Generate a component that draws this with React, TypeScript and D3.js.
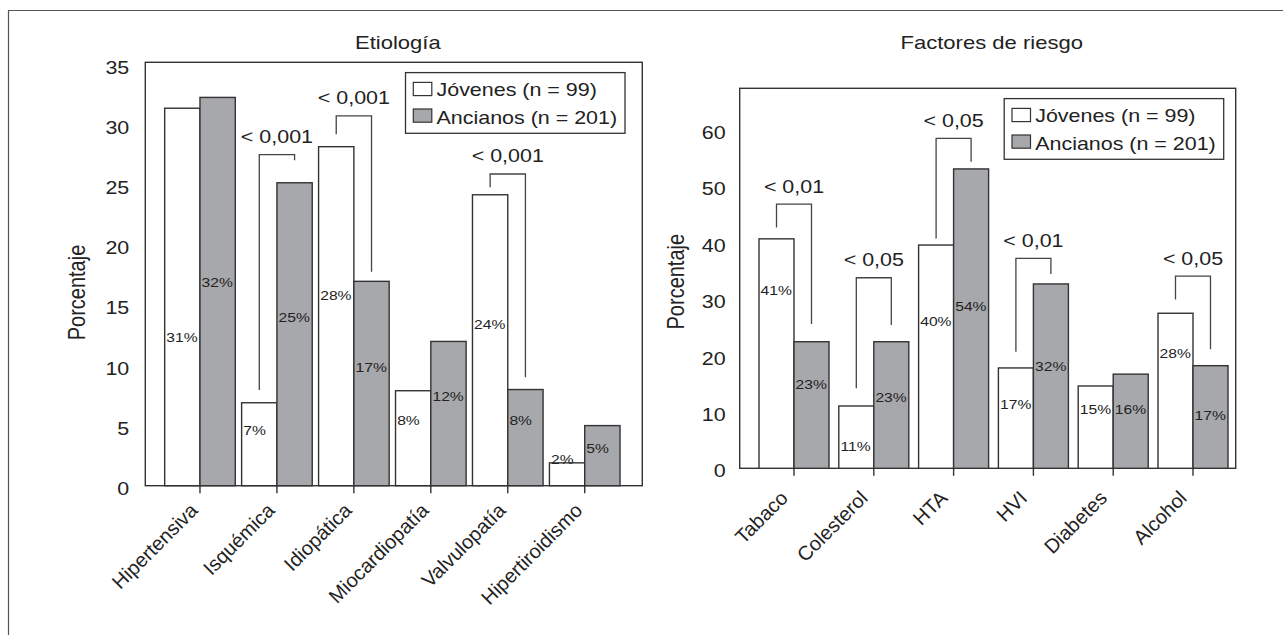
import React from "react";
import * as d3 from "d3";

// ---------- Data ----------
const etioCategories = ["Hipertensiva", "Isquémica", "Idiopática", "Miocardiopatía", "Valvulopatía", "Hipertiroidismo"];
const etioJovenes = [31.4, 6.9, 28.2, 7.9, 24.2, 1.9];
const etioAncianos = [32.3, 25.2, 17.0, 12.0, 8.0, 5.0];
const etioLabelsJ = ["31%", "7%", "28%", "8%", "24%", "2%"];
const etioLabelsA = ["32%", "25%", "17%", "12%", "8%", "5%"];
// value-unit heights at which the percentage annotations sit
const etioLabelAtJ = [12.3, 4.6, 15.8, 5.4, 13.4, 2.2];
const etioLabelAtA = [16.9, 14.0, 9.85, 7.4, 5.4, 3.1];
const etioTicks = [0, 5, 10, 15, 20, 25, 30, 35];
const etioBrackets = [
  { cat: "Isquémica", p: "< 0,001", left: 7.96, top: 27.54, right: 27.07 },
  { cat: "Idiopática", p: "< 0,001", left: 29.23, top: 30.76, right: 17.8 },
  { cat: "Valvulopatía", p: "< 0,001", left: 24.83, top: 25.93, right: 9.02 },
];

const riskCategories = ["Tabaco", "Colesterol", "HTA", "HVI", "Diabetes", "Alcohol"];
const riskJovenes = [40.7, 11.05, 39.6, 17.8, 14.6, 27.5];
const riskAncianos = [22.45, 22.45, 53.1, 32.7, 16.7, 18.2];
const riskLabelsJ = ["41%", "11%", "40%", "17%", "15%", "28%"];
const riskLabelsA = ["23%", "23%", "54%", "32%", "16%", "17%"];
const riskLabelAtJ = [31.5, 3.83, 26.0, 11.4, 10.5, 20.3];
const riskLabelAtA = [14.9, 12.5, 28.8, 18.1, 10.5, 9.3];
const riskTicks = [0, 10, 20, 30, 40, 50, 60];
const riskBrackets = [
  { cat: "Tabaco", p: "< 0,01", left: 42.73, top: 46.86, right: 25.59 },
  { cat: "Colesterol", p: "< 0,05", left: 14.2, top: 33.8, right: 25.4 },
  { cat: "HTA", p: "< 0,05", left: 40.78, top: 58.51, right: 54.36 },
  { cat: "HVI", p: "< 0,01", left: 20.67, top: 37.23, right: 34.45 },
  { cat: "Alcohol", p: "< 0,05", left: 29.96, top: 34.1, right: 21.1 },
];

const legendItems = ["Jóvenes (n = 99)", "Ancianos (n = 201)"];

// ---------- Styles ----------
const FONT = "'Liberation Sans', Arial, Helvetica, sans-serif";
const SX = 1.16; // horizontal stretch seen in the reference
const INK = "#222";
const BAR_STROKE = "#333";
const GRAY = "#a7a8ab";

function Txt({ x, y, size, anchor = "start", baseline = "auto", rotate = 0, stretch = true, children }: any) {
  const sc = stretch ? ` scale(${SX},1)` : "";
  return (
    <text
      transform={`translate(${x},${y})${sc}${rotate ? ` rotate(${rotate})` : ""}`}
      fontSize={size}
      textAnchor={anchor}
      dominantBaseline={baseline}
      fill={INK}
      fontFamily={FONT}
    >
      {children}
    </text>
  );
}

type PanelProps = {
  title: string;
  cats: string[];
  jov: number[];
  anc: number[];
  labJ: string[];
  labA: string[];
  atJ: number[];
  atA: number[];
  ticks: number[];
  brackets: { cat: string; p: string; left: number; top: number; right: number }[];
  x0: number;
  x1: number;
  yTop: number;
  yBottom: number;
  yMax: number;
  bandRange: [number, number];
  barW: number;
  tickGap: number;
  axisTitleX: number;
  axisTitleAt: number;
  legendGap: number;
  catDx: number;
  catDy: number;
};

function Panel(p: PanelProps) {
  const y = d3.scaleLinear().domain([0, p.yMax]).range([p.yBottom, p.yTop]);
  const xb = d3.scaleBand<string>().domain(p.cats).range(p.bandRange).padding(0);
  const cx = (c: string) => (xb(c) as number) + xb.bandwidth() / 2;
  const legendW = 219.5;
  const legendH = 60.7;
  const lx = p.x1 - p.legendGap - legendW;
  const ly = p.yTop + 10.3;

  return (
    <g>
      {/* title */}
      <Txt x={(p.x0 + p.x1) / 2 + 4} y={49} size={19} anchor="middle">
        {p.title}
      </Txt>
      {/* y axis title */}
      <Txt x={p.axisTitleX} y={y(p.axisTitleAt)} size={20} anchor="middle" rotate={-90}>
        Porcentaje
      </Txt>
      {/* y tick labels */}
      {p.ticks.map((t) => (
        <Txt key={t} x={p.x0 - p.tickGap} y={y(t) + 2.6} size={18.5} anchor="end" baseline="central">
          {String(t)}
        </Txt>
      ))}
      {/* frame */}
      <rect
        x={p.x0}
        y={p.yTop}
        width={p.x1 - p.x0}
        height={p.yBottom - p.yTop}
        fill="none"
        stroke={BAR_STROKE}
        strokeWidth={1.4}
      />
      {/* bars */}
      {p.cats.map((c, i) => (
        <g key={c}>
          <rect
            x={cx(c) - p.barW}
            y={y(p.jov[i])}
            width={p.barW}
            height={y(0) - y(p.jov[i])}
            fill="#fff"
            stroke={BAR_STROKE}
            strokeWidth={1.4}
          />
          <rect
            x={cx(c)}
            y={y(p.anc[i])}
            width={p.barW}
            height={y(0) - y(p.anc[i])}
            fill={GRAY}
            stroke={BAR_STROKE}
            strokeWidth={1.4}
          />
          <line x1={cx(c)} x2={cx(c)} y1={y(0)} y2={y(0) + 7.5} stroke={BAR_STROKE} strokeWidth={1.4} />
          <Txt x={cx(c) - p.barW + 1.6} y={y(p.atJ[i])} size={13.5} baseline="central">
            {p.labJ[i]}
          </Txt>
          <Txt x={cx(c) + 1.6} y={y(p.atA[i])} size={13.5} baseline="central">
            {p.labA[i]}
          </Txt>
          <Txt
            x={cx(c) + p.catDx}
            y={y(0) + p.catDy}
            size={20}
            anchor="end"
            rotate={-45}
            stretch={false}
          >
            {c}
          </Txt>
        </g>
      ))}
      {/* significance brackets */}
      {p.brackets.map((b) => {
        const xl = cx(b.cat) - p.barW / 2;
        const xr = cx(b.cat) + p.barW / 2;
        return (
          <g key={b.cat}>
            <path
              d={`M${xl},${y(b.left)}V${y(b.top)}H${xr}V${y(b.right)}`}
              fill="none"
              stroke="#444"
              strokeWidth={1.3}
            />
            <Txt x={(xl + xr) / 2} y={y(b.top) - 18} size={18.5} anchor="middle" baseline="central">
              {b.p}
            </Txt>
          </g>
        );
      })}
      {/* legend */}
      <rect x={lx} y={ly} width={legendW} height={legendH} fill="#fff" stroke={BAR_STROKE} strokeWidth={1.3} />
      {legendItems.map((t, i) => (
        <g key={t}>
          <rect
            x={lx + 7.8}
            y={ly + 9.8 + i * 26.6}
            width={18.5}
            height={13.2}
            fill={i === 0 ? "#fff" : GRAY}
            stroke={BAR_STROKE}
            strokeWidth={1.2}
          />
          <Txt x={lx + 31} y={ly + 17.2 + i * 27.5} size={18.5} baseline="central">
            {t}
          </Txt>
        </g>
      ))}
    </g>
  );
}

export default function App() {
  return (
    <svg
      width={1283}
      height={635}
      style={{ position: "absolute", left: 0, top: 0, background: "#fff" }}
    >
      <rect x={0} y={0} width={1283} height={635} fill="#fff" />
      <path d="M8.5,635V10.5H1283" fill="none" stroke="#555" strokeWidth={1.2} />
      <Panel
        title="Etiología"
        cats={etioCategories}
        jov={etioJovenes}
        anc={etioAncianos}
        labJ={etioLabelsJ}
        labA={etioLabelsA}
        atJ={etioLabelAtJ}
        atA={etioLabelAtA}
        ticks={etioTicks}
        brackets={etioBrackets}
        x0={145.3}
        x1={642.3}
        yTop={62.3}
        yBottom={485.7}
        yMax={35.22}
        bandRange={[161.5, 623.2]}
        barW={35.3}
        tickGap={16}
        axisTitleX={85}
        axisTitleAt={16.07}
        legendGap={17.3}
        catDx={-1}
        catDy={26}
      />
      <Panel
        title="Factores de riesgo"
        cats={riskCategories}
        jov={riskJovenes}
        anc={riskAncianos}
        labJ={riskLabelsJ}
        labA={riskLabelsA}
        atJ={riskLabelAtJ}
        atA={riskLabelAtA}
        ticks={riskTicks}
        brackets={riskBrackets}
        x0={739.7}
        x1={1235.7}
        yTop={88.3}
        yBottom={468.3}
        yMax={67.4}
        bandRange={[754.1, 1232.9]}
        barW={35}
        tickGap={14}
        axisTitleX={684}
        axisTitleAt={33.1}
        legendGap={12}
        catDx={-5}
        catDy={31}
      />
    </svg>
  );
}
